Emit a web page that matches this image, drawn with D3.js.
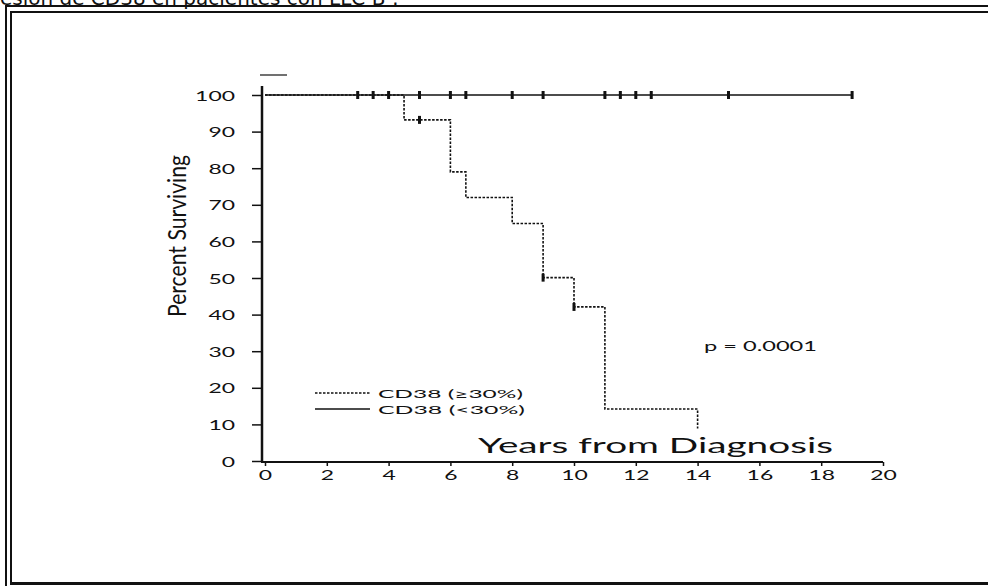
<!DOCTYPE html>
<html>
<head>
<meta charset="utf-8">
<script src="https://cdn.jsdelivr.net/npm/d3@7/dist/d3.min.js"></script>
<style>
  html, body { margin: 0; padding: 0; background: #fff; }
  svg { display: block; }
  text { fill: #111; }
</style>
</head>
<body>
<svg id="chart" width="988" height="586"></svg>
<script>
// Kaplan-Meier survival by CD38 expression
const xTicks = [0, 2, 4, 6, 8, 10, 12, 14, 16, 18, 20];
const yTicks = [0, 10, 20, 30, 40, 50, 60, 70, 80, 90, 100];

// CD38 (<30%): no events, censored follow-up times (years)
const lowCensorTimes = [3, 3.5, 4, 5, 6, 6.5, 8, 9, 11, 11.5, 12, 12.5, 15, 19];
const lowEndTime = 19;
const lowSurvival = 100;

// CD38 (>=30%): step times and survival (%)
const highTimes = [0, 4.5, 6, 6.5, 8, 9, 10, 11, 14];
const highSurvival = [100, 93.2, 79, 72, 64.9, 50.1, 42.1, 14.2, 8.9];
const highCensorTimes = [5, 9, 10];

const legendLabels = ["CD38 (\u226530%)", "CD38 (<30%)"];
const pLabel = "p = 0.0001";
const xTitle = "Years from Diagnosis";
const yTitle = "Percent Surviving";
const headerText = "Expresión de CD38 en pacientes con LLC-B :";

const svg = d3.select("#chart");
const ink = "#111";
const font = "Lato, 'Open Sans', 'DejaVu Sans', sans-serif";

// page frame (double rule on top and left)
const frame = svg.append("g").attr("fill", ink);
frame.append("rect").attr("x", 5).attr("y", 5).attr("width", 983).attr("height", 2);
frame.append("rect").attr("x", 5).attr("y", 5).attr("width", 2).attr("height", 581);
frame.append("rect").attr("x", 10).attr("y", 11).attr("width", 978).attr("height", 2);
frame.append("rect").attr("x", 10).attr("y", 11).attr("width", 2).attr("height", 574);
frame.append("rect").attr("x", 10).attr("y", 582).attr("width", 978).attr("height", 3);

// header line, running above the page edge
svg.append("text")
  .attr("x", -45).attr("y", 5)
  .attr("font-family", "'DejaVu Sans', Verdana, sans-serif")
  .attr("font-size", 20)
  .text(headerText);

const x = d3.scaleLinear().domain([0, 20]).range([265, 883]);
const y = d3.scaleLinear().domain([0, 100]).range([461, 95]);

// y axis
const yAxis = svg.append("g")
  .attr("transform", "translate(262,0)")
  .call(d3.axisLeft(y).tickValues(yTicks).tickSize(10).tickPadding(17).tickSizeOuter(0));
yAxis.select(".domain").attr("stroke", ink).attr("stroke-width", 2.5)
  .attr("d", `M0,${86}V${y(0) + 1}`);
yAxis.selectAll(".tick line").attr("stroke", ink).attr("stroke-width", 1.5);
yAxis.selectAll(".tick text")
  .attr("font-family", font).attr("font-size", 14).attr("fill", ink)
  .attr("dy", "0.36em")
  .attr("textLength", d => String(d).length * 13.3)
  .attr("lengthAdjust", "spacingAndGlyphs");

// x axis
const xAxis = svg.append("g")
  .attr("transform", `translate(0,${y(0) + 1})`)
  .call(d3.axisBottom(x).tickValues(xTicks).tickSize(4).tickPadding(2).tickSizeOuter(0));
xAxis.select(".domain").attr("stroke", ink).attr("stroke-width", 2)
  .attr("d", `M261,0H${x(20)}`);
xAxis.selectAll(".tick line").attr("stroke", ink).attr("stroke-width", 1.5);
xAxis.selectAll(".tick text")
  .attr("font-family", font).attr("font-size", 14).attr("fill", ink)
  .attr("dy", "0.85em")
  .attr("textLength", d => String(d).length * 13.3)
  .attr("lengthAdjust", "spacingAndGlyphs");

// short rule above the y axis
svg.append("line")
  .attr("x1", 260).attr("x2", 287).attr("y1", 75).attr("y2", 75)
  .attr("stroke", ink).attr("stroke-width", 1.2);

// survival curves
const stepLine = d3.line().x(d => x(d[0])).y(d => y(d[1])).curve(d3.curveStepAfter);
const highPts = highTimes.map((t, i) => [t, highSurvival[i]]);
svg.append("path")
  .attr("d", stepLine(highPts))
  .attr("fill", "none").attr("stroke", ink).attr("stroke-width", 1.6)
  .attr("stroke-dasharray", "2.5,1.5");

svg.append("path")
  .attr("d", stepLine([[0, lowSurvival], [lowEndTime, lowSurvival]]))
  .attr("fill", "none").attr("stroke", ink).attr("stroke-width", 1.5);

function highAt(t) {
  let s = highSurvival[0];
  highTimes.forEach((ht, i) => { if (ht <= t) s = highSurvival[i]; });
  return s;
}

const censors = lowCensorTimes.map(t => [t, lowSurvival])
  .concat(highCensorTimes.map(t => [t, highAt(t)]));
svg.append("g").selectAll("rect").data(censors).join("rect")
  .attr("x", d => x(d[0]) - 1.5).attr("y", d => y(d[1]) - 4)
  .attr("width", 3).attr("height", 8).attr("fill", ink);

// legend
const legend = svg.append("g");
[[393, "2.5,1.5"], [409, null]].forEach(([ly, dash], i) => {
  legend.append("line")
    .attr("x1", 315).attr("x2", 370).attr("y1", ly).attr("y2", ly)
    .attr("stroke", ink).attr("stroke-width", 1.4)
    .attr("stroke-dasharray", dash);
  legend.append("text")
    .attr("x", 378).attr("y", ly + 4.5)
    .attr("font-family", font).attr("font-size", 12)
    .attr("textLength", i === 0 ? 145 : 147).attr("lengthAdjust", "spacingAndGlyphs")
    .text(legendLabels[i]);
});

// p value
svg.append("text")
  .attr("x", 704).attr("y", 350.5)
  .attr("font-family", font).attr("font-size", 13)
  .attr("textLength", 113).attr("lengthAdjust", "spacingAndGlyphs")
  .text(pLabel);

// axis titles
svg.append("text")
  .attr("x", 478).attr("y", 453)
  .attr("font-family", font).attr("font-size", 21)
  .attr("textLength", 355).attr("lengthAdjust", "spacingAndGlyphs")
  .text(xTitle);

svg.append("text")
  .attr("transform", "translate(186,236) rotate(-90)")
  .attr("text-anchor", "middle")
  .attr("font-family", font).attr("font-size", 25)
  .attr("textLength", 162).attr("lengthAdjust", "spacingAndGlyphs")
  .text(yTitle);
</script>
</body>
</html>
